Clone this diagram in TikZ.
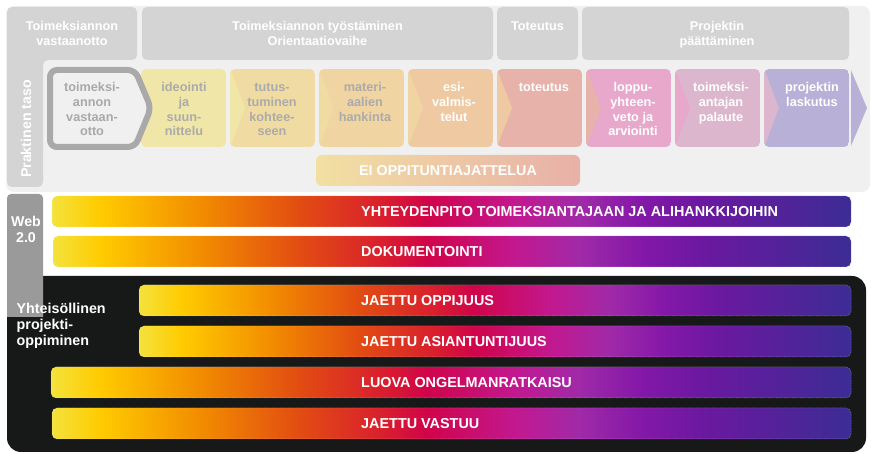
\documentclass[tikz,border=0pt]{standalone}
\usepackage{fontspec}
\setmainfont{Liberation Sans}
\definecolor{panel}{HTML}{F0F0F0}
\definecolor{hdrgray}{HTML}{D4D4D4}
\definecolor{webgray}{HTML}{9A9A9A}
\definecolor{blk}{HTML}{171918}
\definecolor{sone}{HTML}{A9A9A9}
\definecolor{stxt}{HTML}{ABABAB}
\definecolor{c2}{HTML}{F0E6A8}
\definecolor{c3}{HTML}{F0DCA2}
\definecolor{c4}{HTML}{F0D4A2}
\definecolor{c5}{HTML}{EEC9A2}
\definecolor{c6}{HTML}{E6B2AA}
\definecolor{c7}{HTML}{E8A8CC}
\definecolor{c8}{HTML}{DCB6CC}
\definecolor{c9}{HTML}{B8B0D6}
\definecolor{eiL}{HTML}{F2E0A2}
\definecolor{eiR}{HTML}{E8B0A8}
\definecolor{g0}{HTML}{F4E23C}
\definecolor{g1}{HTML}{FFCB00}
\definecolor{g2}{HTML}{F28C00}
\definecolor{g3}{HTML}{E24C12}
\definecolor{g4}{HTML}{D81C30}
\definecolor{g5}{HTML}{D0044A}
\definecolor{g6}{HTML}{C21890}
\definecolor{g7}{HTML}{A02AA8}
\definecolor{g8}{HTML}{8418A8}
\definecolor{g9}{HTML}{6C18A0}
\definecolor{g10}{HTML}{3C2C94}
\pgfdeclarehorizontalshading{bargrad}{100bp}{color(0bp)=(g0); color(25bp)=(g0); color(28bp)=(g1); color(34.3bp)=(g2); color(40.5bp)=(g3); color(46bp)=(g4); color(48.5bp)=(g5); color(54bp)=(g6); color(58bp)=(g7); color(61.8bp)=(g8); color(65.5bp)=(g9); color(75bp)=(g10); color(100bp)=(g10)}
\tikzset{
  hdr/.style={font=\bfseries\fontsize{12.7}{15}\selectfont, text=white, align=center, anchor=north, inner sep=0pt},
  steptxt/.style={font=\bfseries\fontsize{12.7}{14.7}\selectfont, align=center, anchor=north, inner sep=0pt},
  bartxt/.style={font=\bfseries\fontsize{14.4}{16}\selectfont, text=white, anchor=west, inner sep=0pt},
  sidetxt/.style={font=\bfseries\fontsize{14.2}{16}\selectfont, text=white, inner sep=0pt},
  gbar/.style={shading=bargrad, rounded corners=5pt, draw=white, draw opacity=.4, dash pattern=on .8pt off .8pt, line width=.5pt}
}
\begin{document}
\begin{tikzpicture}[x=1pt,y=-1pt]
\useasboundingbox (0,0) rectangle (871,454);
% top panel
\fill[panel, rounded corners=8pt] (6,6) rectangle (870,192);
\fill[hdrgray, rounded corners=5pt] (7,7) -- (137,7) -- (137,60) -- (43,60) -- (43,187) -- (7,187) -- cycle;
\fill[hdrgray, rounded corners=5pt] (142,7) rectangle (493,60);
\fill[hdrgray, rounded corners=5pt] (497,7) rectangle (578,60);
\fill[hdrgray, rounded corners=5pt] (582,7) rectangle (849,60);
\node[hdr] (h1) at (72,20) {\strut Toimeksiannon\\vastaanotto};
\node[hdr] (h2) at (317.5,20) {\strut Toimeksiannon työstäminen\\Orientaatiovaihe};
\node[hdr] (h3) at (537.5,20) {\strut Toteutus};
\node[hdr] (h4) at (717,20) {\strut Projektin\\päättäminen};
\node[sidetxt, rotate=90] (pt) at (26,129) {Praktinen taso};
% steps
\fill[c2, rounded corners=5pt] (141,69) rectangle ++(85,78);
\foreach \x/\c/\p in {230/c3/c2, 319/c4/c3, 408/c5/c4, 497/c6/c5, 586/c7/c6, 675/c8/c7, 764/c9/c8} {
  \begin{scope}
    \clip[rounded corners=5pt] (\x,69) rectangle ++(85,78);
    \fill[\c] (\x,69) rectangle ++(85,78);
    \fill[\p] (\x,69) -- ++(15,39) -- ++(-15,39) -- cycle;
  \end{scope}
}
\fill[c9] (851,70) -- (867,108) -- (851,146) -- cycle;
\draw[sone, line width=6pt, fill=panel, rounded corners=7pt] (50,70) -- (135,70) -- (151,108) -- (135,147) -- (50,147) -- cycle;
\node[steptxt, text=sone] (s1) at (92,81.2) {\strut toimeksi-\\annon\\vastaan-\\otto};
\node[steptxt, text=stxt] (s2) at (184,81.2) {\strut ideointi\\ja\\suun-\\nittelu};
\node[steptxt, text=stxt] (s3) at (272,81.2) {\strut tutus-\\tuminen\\kohtee-\\seen};
\node[steptxt, text=stxt] (s4) at (365,81.2) {\strut materi-\\aalien\\hankinta};
\node[steptxt, text=white] (s5) at (454,81.2) {\strut esi-\\valmis-\\telut};
\node[steptxt, text=white] (s6) at (544,81.2) {\strut toteutus};
\node[steptxt, text=white] (s7) at (633,81.2) {\strut loppu-\\yhteen-\\veto ja\\arviointi};
\node[steptxt, text=white] (s8) at (721,81.2) {\strut toimeksi-\\antajan\\palaute};
\node[steptxt, text=white] (s9) at (812,81.2) {\strut projektin\\laskutus};
% EI bar
\shade[left color=eiL, right color=eiR, rounded corners=6pt] (316,155) rectangle (580,186);
\node[sidetxt, font=\bfseries\fontsize{14.3}{16}\selectfont] (ei) at (448,170.8) {EI OPPITUNTIAJATTELUA};
% lower area
\fill[blk, rounded corners=14pt] (7,276) rectangle (866,452);
\fill[webgray] (7,317) [rounded corners=4pt] -- (7,194) -- (43,194) [sharp corners] -- (43,317) -- cycle;
\node[sidetxt, align=center, anchor=north] (web) at (26,215.5) {\strut Web\\2.0};
\node[sidetxt, align=left, anchor=north west, font=\bfseries\fontsize{14.3}{16}\selectfont] (yp) at (16.5,301.8) {\strut Yhteisöllinen\\projekti-\\oppiminen};
\shadedraw[gbar] (52,196) rectangle (851,227);
\node[bartxt] (b1) at (361,211.5) {YHTEYDENPITO TOIMEKSIANTAJAAN JA ALIHANKKIJOIHIN};
\shadedraw[gbar] (53,236) rectangle (851,267);
\node[bartxt] (b2) at (361,251.5) {DOKUMENTOINTI};
\shadedraw[gbar] (139,285) rectangle (851,316);
\node[bartxt] (b3) at (361,300.5) {JAETTU OPPIJUUS};
\shadedraw[gbar] (139,326) rectangle (851,357);
\node[bartxt] (b4) at (361,341.5) {JAETTU ASIANTUNTIJUUS};
\shadedraw[gbar] (51,367) rectangle (851,398);
\node[bartxt] (b5) at (361,382.5) {LUOVA ONGELMANRATKAISU};
\shadedraw[gbar] (52,408) rectangle (851,439);
\node[bartxt] (b6) at (361,423.5) {JAETTU VASTUU};
\end{tikzpicture}
\end{document}
